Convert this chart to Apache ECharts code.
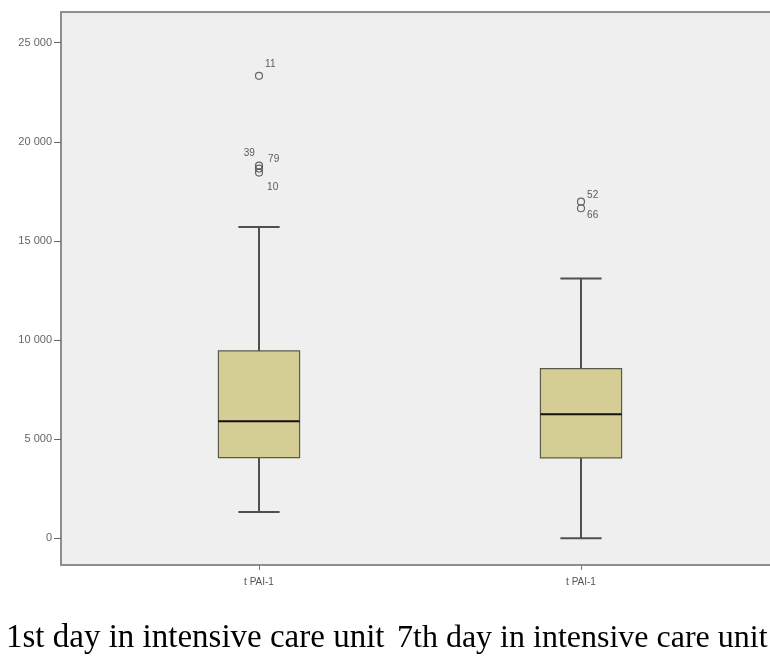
<!DOCTYPE html>
<html>
<head>
<meta charset="utf-8">
<script src="https://cdn.jsdelivr.net/npm/echarts@6/dist/echarts.min.js"></script>
<style>
  html, body { margin: 0; padding: 0; background: #ffffff; }
  #chart { width: 770px; height: 661px; }
</style>
</head>
<body>
<div id="chart"></div>
<script>
// Groups shown along the horizontal axis
const categories = ['t PAI-1', 't PAI-1'];
const groupCaptions = ['1st day in intensive care unit', '7th day in intensive care unit'];

// Five-number summaries per group: [lower whisker, Q1, median, Q3, upper whisker]
const day1Summary = [1330, 4070, 5900, 9450, 15700];
const day7Summary = [0, 4050, 6250, 8560, 13100];

// Outlying observations: [group index, value, case number]
const outliers = [
  [0, 23330, '11'],
  [0, 18800, '39'],
  [0, 18650, '79'],
  [0, 18450, '10'],
  [1, 16980, '52'],
  [1, 16650, '66']
];

// Y-axis tick values
const yTicks = [0, 5000, 10000, 15000, 20000, 25000];
const yMin = -1350;
const yMax = 26550;

const boxData = [
  [0].concat(day1Summary),
  [1].concat(day7Summary)
];

// Label placement for each case number next to its circle
const labelSide = {
  '11': { position: 'right', offset: [0, -12] },
  '39': { position: 'left', offset: [2, -12] },
  '79': { position: 'right', offset: [3, -9] },
  '10': { position: 'right', offset: [2, 15] },
  '52': { position: 'right', offset: [0, -6] },
  '66': { position: 'right', offset: [0, 7] }
};

function fmtThousands(v) {
  return String(v).replace(/\B(?=(\d{3})+(?!\d))/g, ' ');
}

function renderBox(params, api) {
  const cat = api.value(0);
  const low = api.coord([cat, api.value(1)]);
  const q1 = api.coord([cat, api.value(2)]);
  const med = api.coord([cat, api.value(3)]);
  const q3 = api.coord([cat, api.value(4)]);
  const high = api.coord([cat, api.value(5)]);
  const band = api.size([1, 0])[0];
  const halfBox = band * 0.126;
  const halfCap = band * 0.064;
  const cx = med[0];
  const lineStyle = { stroke: '#505050', lineWidth: 2, fill: null };
  return {
    type: 'group',
    children: [
      { type: 'line', shape: { x1: cx, y1: high[1], x2: cx, y2: q3[1] }, style: lineStyle },
      { type: 'line', shape: { x1: cx, y1: q1[1], x2: cx, y2: low[1] }, style: lineStyle },
      { type: 'line', shape: { x1: cx - halfCap, y1: high[1], x2: cx + halfCap, y2: high[1] }, style: lineStyle },
      { type: 'line', shape: { x1: cx - halfCap, y1: low[1], x2: cx + halfCap, y2: low[1] }, style: lineStyle },
      {
        type: 'rect',
        shape: { x: cx - halfBox, y: q3[1], width: halfBox * 2, height: q1[1] - q3[1] },
        style: { fill: '#d4ce95', stroke: '#5a5a4a', lineWidth: 1.2 }
      },
      { type: 'line', shape: { x1: cx - halfBox, y1: med[1], x2: cx + halfBox, y2: med[1] }, style: { stroke: '#111111', lineWidth: 2 } }
    ]
  };
}

const chart = echarts.init(document.getElementById('chart'), null, { renderer: 'canvas' });

const frameLine = { show: true, lineStyle: { color: '#8e8e8e', width: 2 } };
const captionBase = { fontFamily: 'Liberation Serif', fontWeight: 'normal', color: '#000000' };

chart.setOption({
  animation: false,
  backgroundColor: '#ffffff',
  title: [
    { text: groupCaptions[0], left: 6, top: 622, padding: 0, textStyle: Object.assign({ fontSize: 33 }, captionBase) },
    { text: groupCaptions[1], left: 397, top: 623, padding: 0, textStyle: Object.assign({ fontSize: 32 }, captionBase) }
  ],
  grid: [
    {
      left: 61, top: 12, right: 0, bottom: 96,
      show: true, backgroundColor: '#efefef', borderWidth: 0
    },
    {
      left: 98, top: 12, width: 644, bottom: 96
    }
  ],
  xAxis: [
    {
      gridIndex: 0, type: 'value', min: 0, max: 1, position: 'bottom',
      axisLine: Object.assign({ onZero: false }, frameLine),
      axisTick: { show: false }, axisLabel: { show: false }, splitLine: { show: false }
    },
    {
      gridIndex: 0, type: 'value', min: 0, max: 1, position: 'top',
      axisLine: Object.assign({ onZero: false }, frameLine),
      axisTick: { show: false }, axisLabel: { show: false }, splitLine: { show: false }
    },
    {
      gridIndex: 1, type: 'category', data: categories, position: 'bottom',
      axisLine: { show: false, onZero: false },
      axisTick: { show: true, alignWithLabel: true, length: 5, lineStyle: { color: '#777777', width: 1 } },
      axisLabel: { fontFamily: 'Liberation Sans', fontSize: 10, color: '#555555', margin: 12 },
      splitLine: { show: false }
    }
  ],
  yAxis: [
    {
      gridIndex: 0, type: 'value', min: yMin, max: yMax,
      axisLine: Object.assign({ onZero: false }, frameLine),
      axisTick: { show: true, length: 7, customValues: yTicks, lineStyle: { color: '#666666', width: 1 } },
      axisLabel: {
        customValues: yTicks, fontFamily: 'Liberation Sans', fontSize: 11, color: '#666666', margin: 9,
        formatter: function (v) { return fmtThousands(v); }
      },
      splitLine: { show: false }
    },
    { gridIndex: 1, type: 'value', min: yMin, max: yMax, show: false }
  ],
  series: [
    {
      type: 'custom',
      xAxisIndex: 2, yAxisIndex: 1,
      renderItem: renderBox,
      encode: { x: 0, y: [1, 2, 3, 4, 5] },
      data: boxData,
      z: 2
    },
    {
      type: 'scatter',
      xAxisIndex: 2, yAxisIndex: 1,
      symbol: 'circle', symbolSize: 7,
      itemStyle: { color: 'rgba(0,0,0,0)', borderColor: '#444444', borderWidth: 1.2 },
      data: outliers.map(function (o) {
        const side = labelSide[o[2]];
        return {
          value: [o[0], o[1]],
          label: {
            show: true, formatter: o[2], position: side.position, offset: side.offset,
            distance: 2, fontFamily: 'Liberation Sans', fontSize: 10, color: '#333333'
          }
        };
      }),
      z: 3
    }
  ]
});
</script>
</body>
</html>
